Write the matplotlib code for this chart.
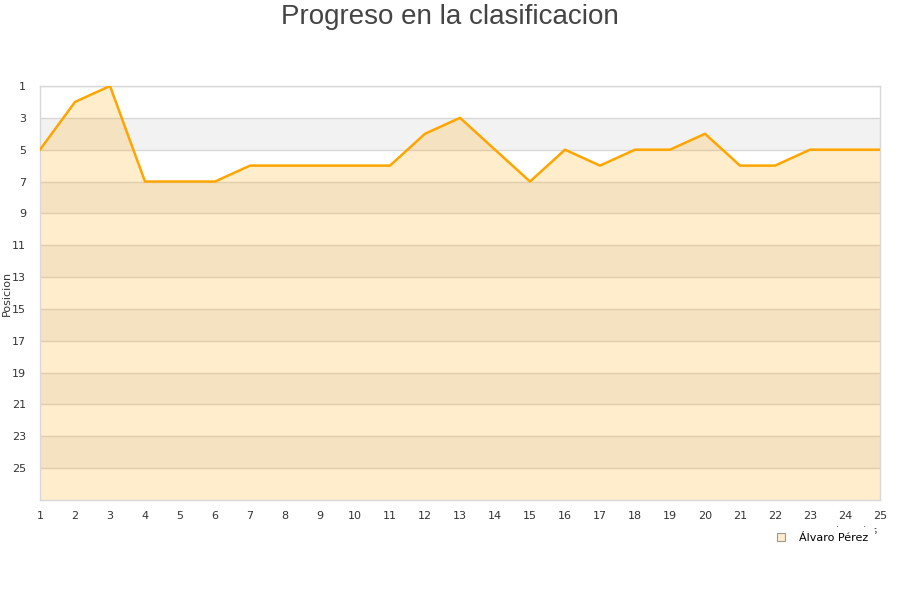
import matplotlib
matplotlib.use("Agg")
import matplotlib.pyplot as plt
from matplotlib.lines import Line2D

jornadas = list(range(1, 26))
posiciones = [5, 2, 1, 7, 7, 7, 6, 6, 6, 6, 6, 4, 3, 5, 7, 5, 6, 5, 5, 4, 6, 6, 5, 5, 5]
y_ticks = list(range(1, 26, 2))
titulo = "Progreso en la clasificacion"
jugador = "Álvaro Pérez"

fig = plt.figure(figsize=(9, 6), dpi=100)
ax = fig.add_axes([40/900, 100/600, 840/900, 414/600])

ax.set_xlim(1, 25)
ax.set_ylim(27, 1)

# alternating bands
for start in range(3, 27, 4):
    ax.axhspan(start, start + 2, color="#f2f2f2", zorder=0, lw=0)
for t in y_ticks:
    ax.axhline(t, color="#d8d8d8", lw=1, zorder=1)

ax.fill_between(jornadas, posiciones, 27, color="#ffa500", alpha=0.2, lw=0, zorder=2)
ax.plot(jornadas, posiciones, color="#ffa500", lw=1.8, zorder=3)

ax.set_yticks(y_ticks)
ax.set_xticks(jornadas)
ax.tick_params(axis="both", length=0, labelsize=8, colors="#333333")
ax.tick_params(axis="x", pad=8)
ax.tick_params(axis="y", pad=10)
for s in ax.spines.values():
    s.set_color("#d8d8d8")
    s.set_linewidth(1)

ax.set_ylabel("Posicion", fontsize=8, color="#333333", labelpad=0)

fig.text(0.5, 1 - 4/600, titulo, ha="center", va="top", fontsize=20,
         family="Liberation Sans", color="#444444")

fig.text(878/900, 1 - 531/600, "Jornadas", ha="right", va="center", fontsize=7,
         color="#333333", zorder=1)

handle = Line2D([], [], marker="s", linestyle="none", markersize=6,
                markerfacecolor="#feedcc", markeredgecolor="#999999", markeredgewidth=0.8)
leg = fig.legend([handle], [jugador], loc="center", bbox_to_anchor=(819/900, 1 - 538/600),
                 frameon=True, fontsize=8, handletextpad=0.6, borderpad=0.5)
leg.get_frame().set_edgecolor("white")
leg.get_frame().set_facecolor("white")
leg.get_frame().set_alpha(1)
leg.set_zorder(10)

fig.savefig("out.png", dpi=100)
